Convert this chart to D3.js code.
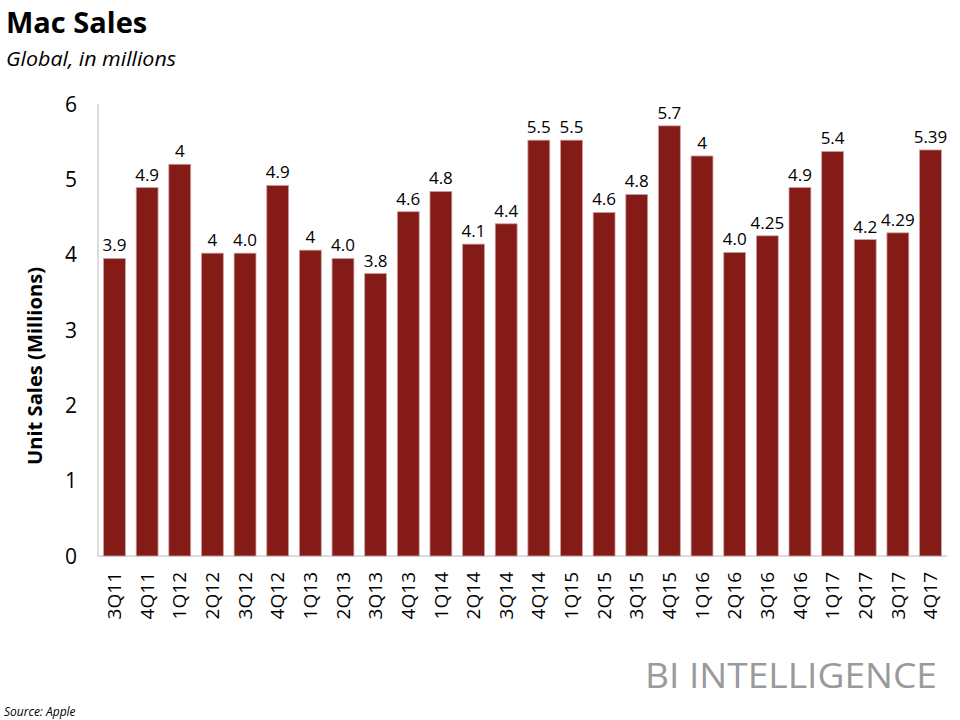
<!DOCTYPE html>
<html><head><meta charset="utf-8">
<script src="https://cdn.jsdelivr.net/npm/d3@7"></script>
<style>body{margin:0;background:#fff;} svg{display:block;}</style>
</head><body>
<script>
const categories = ["3Q11","4Q11","1Q12","2Q12","3Q12","4Q12","1Q13","2Q13","3Q13","4Q13","1Q14","2Q14","3Q14","4Q14","1Q15","2Q15","3Q15","4Q15","1Q16","2Q16","3Q16","4Q16","1Q17","2Q17","3Q17","4Q17"];
const values = [3.95,4.89,5.2,4.02,4.02,4.92,4.06,3.95,3.75,4.57,4.84,4.14,4.41,5.52,5.52,4.56,4.8,5.71,5.31,4.03,4.25,4.89,5.37,4.2,4.29,5.39];
const valueLabels = ["3.9","4.9","4","4","4.0","4.9","4","4.0","3.8","4.6","4.8","4.1","4.4","5.5","5.5","4.6","4.8","5.7","4","4.0","4.25","4.9","5.4","4.2","4.29","5.39"];
const yTicks = [0,1,2,3,4,5,6];

const W=960,H=720;
const font = "'Open Sans', Lato, sans-serif";
const svg = d3.select("body").append("svg").attr("width",W).attr("height",H).style("font-family",font);

const x = d3.scaleBand().domain(categories).range([98,947]).paddingInner(0.33).paddingOuter(0.17);
const y = d3.scaleLinear().domain([0,6]).range([556,104]);

svg.append("text").attr("x",6).attr("y",33).attr("font-size",29).attr("font-weight","bold").attr("fill","#000").text("Mac Sales");
svg.append("text").attr("x",6).attr("y",66).attr("font-size",20).attr("font-style","italic").attr("fill","#000")
  .attr("textLength",170).attr("lengthAdjust","spacingAndGlyphs").text("Global, in millions");

// axes lines
svg.append("line").attr("x1",98).attr("x2",98).attr("y1",y(6)).attr("y2",y(0)).attr("stroke","#d0d0d0").attr("stroke-width",1.5);
svg.append("line").attr("x1",98).attr("x2",947).attr("y1",y(0)).attr("y2",y(0)).attr("stroke","#d0d0d0").attr("stroke-width",1.5);

// y ticks
svg.append("g").selectAll("text").data(yTicks).join("text")
  .attr("x",77).attr("y",d=>y(d)).attr("dy","0.36em").attr("text-anchor","end")
  .attr("font-size",21).attr("fill","#000").text(d=>d);

svg.append("text").attr("transform","translate(42,366) rotate(-90)").attr("text-anchor","middle")
  .attr("font-size",19).attr("font-weight","bold").attr("fill","#000")
  .attr("textLength",198).attr("lengthAdjust","spacingAndGlyphs").text("Unit Sales (Millions)");

// bars
svg.append("g").selectAll("rect").data(values).join("rect")
  .attr("x",(d,i)=>x(categories[i])).attr("width",x.bandwidth())
  .attr("y",d=>y(d)).attr("height",d=>y(0)-y(d))
  .attr("fill","#841b17").attr("stroke","#c9a3a2").attr("stroke-width",0.8);

// value labels
svg.append("g").selectAll("text").data(values).join("text")
  .attr("x",(d,i)=>x(categories[i])+x.bandwidth()/2).attr("y",d=>y(d)-7)
  .attr("text-anchor","middle").attr("font-size",17).attr("fill","#000")
  .text((d,i)=>valueLabels[i]);

// x labels
svg.append("g").selectAll("text").data(categories).join("text")
  .attr("transform",d=>`translate(${x(d)+x.bandwidth()/2},572) rotate(-90)`)
  .attr("dy","0.35em").attr("text-anchor","end").attr("font-size",19).attr("fill","#000").text(d=>d);

svg.append("text").attr("x",937).attr("y",688).attr("text-anchor","end").attr("font-size",35)
  .attr("fill","#9a9a9a").attr("textLength",292).attr("lengthAdjust","spacingAndGlyphs").text("BI INTELLIGENCE");

svg.append("text").attr("x",4).attr("y",716).attr("font-size",12).attr("font-style","italic").attr("fill","#000").text("Source: Apple");
</script>
</body></html>
